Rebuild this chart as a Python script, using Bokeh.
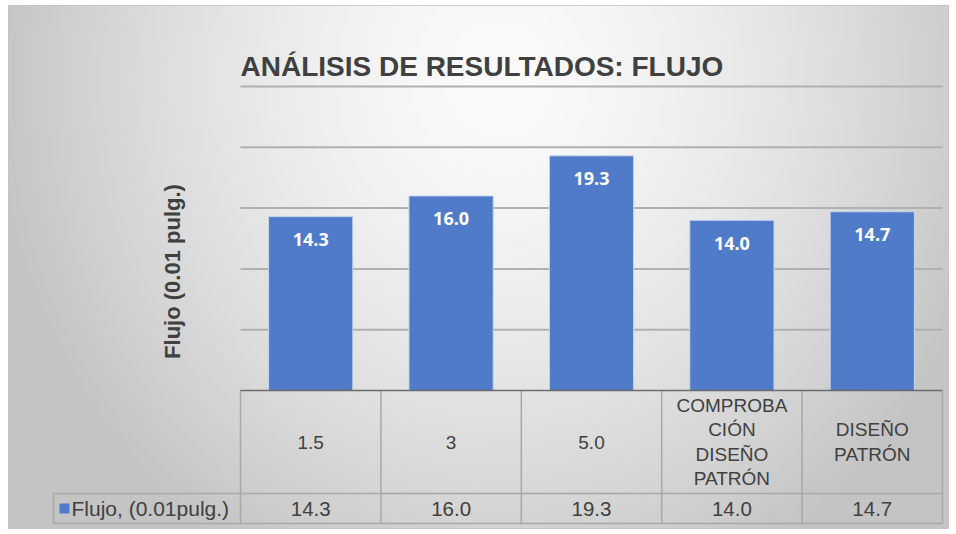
import numpy as np
from bokeh.plotting import figure
from bokeh.models import Range1d, ColumnDataSource
from bokeh.core.properties import value
from bokeh.embed import file_html
from bokeh.resources import INLINE

# ---------------- data ----------------
title_text = "ANÁLISIS DE RESULTADOS: FLUJO"
y_label = "Flujo (0.01 pulg.)"
series_name = "Flujo, (0.01pulg.)"
categories = ["1.5", "3", "5.0", "COMPROBA\nCIÓN\nDISEÑO\nPATRÓN", "DISEÑO\nPATRÓN"]
values = [14.3, 16.0, 19.3, 14.0, 14.7]
grid_ticks = [5, 10, 15, 20, 25]
y_max = 25

# ---------------- layout (page pixels) ----------------
FX0, FX1, FY0, FY1 = 8, 948, 5, 528   # chart frame on the page
W, H = 954, 532
PL, PR = 240, 942          # plot area left / right
P0, PTOP = 390, 86         # y pixel of value 0 and of y_max
ROW1_B, ROW2_B = 493, 523  # bottom of header row / values row
LEG_L = 53                 # left edge of legend cell

n = len(categories)
col_px = (PR - PL) / n
unit_px = (P0 - PTOP) / y_max


def cx(px):
    return (px - PL) / col_px


def cy(py):
    return (P0 - py) / unit_px


x_range = Range1d(cx(FX0), cx(FX1))
y_range = Range1d(cy(FY1), cy(FY0))

p = figure(width=W, height=H, x_range=x_range, y_range=y_range,
           output_backend="svg", toolbar_location=None,
           min_border_left=FX0, min_border_top=FY0,
           min_border_right=W - FX1, min_border_bottom=H - FY1,
           x_axis_type=None, y_axis_type=None)
p.grid.visible = False
p.outline_line_color = "#c4c4c4"
p.background_fill_color = "#e6e6e6"
p.border_fill_color = "white"

# ---------------- gradient background ----------------
fw, fh = FX1 - FX0, FY1 - FY0
ny, nx = fh // 2, fw // 2
rows, cols = np.mgrid[0:ny, 0:nx]
px_x = FX0 + cols * 2.0 + 1
px_y = FY1 - (rows * 2.0 + 1)
d = np.sqrt(((px_x - 500) / 480.0) ** 2 + ((px_y - 80) / 520.0) ** 2)
g = np.clip(251 - 50 * d ** 1.5, 196, 251).astype(np.uint32)
img = ((255 << 24) | (g << 16) | (g << 8) | g).astype(np.uint32)
p.image_rgba(image=[img], x=x_range.start, y=y_range.start,
             dw=x_range.end - x_range.start, dh=y_range.end - y_range.start)

# ---------------- gridlines ----------------
p.segment(x0=0, x1=n, y0=grid_ticks, y1=grid_ticks, line_color="#b0b0b0", line_width=2)

# ---------------- bars ----------------
xs = [i + 0.5 for i in range(n)]
src = ColumnDataSource(dict(x=xs, top=values, label=[f"{v:.1f}" for v in values]))
p.vbar(x="x", top="top", bottom=0, width=0.6, source=src,
       fill_color="#4f7bc8", line_color="#c9d6ee", line_width=1)
p.text(x="x", y="top", text="label", source=src, y_offset=23,
       text_align="center", text_baseline="middle", text_color="white",
       text_font=value("Open Sans"), text_font_style="bold", text_font_size="18px")

# ---------------- data table ----------------
tl = "#a8a8a8"
p.segment(x0=list(range(n + 1)), x1=list(range(n + 1)),
          y0=[0] * (n + 1), y1=[cy(ROW2_B)] * (n + 1), line_color=tl, line_width=1.5)
p.segment(x0=[cx(LEG_L)] * 2, x1=[n] * 2, y0=[cy(ROW1_B), cy(ROW2_B)],
          y1=[cy(ROW1_B), cy(ROW2_B)], line_color=tl, line_width=1.5)
p.segment(x0=[cx(LEG_L)], x1=[cx(LEG_L)], y0=[cy(ROW1_B)], y1=[cy(ROW2_B)],
          line_color=tl, line_width=1.5)
p.segment(x0=[0], x1=[n], y0=[0], y1=[0], line_color="#6b6b6b", line_width=1.5)

p.text(x=xs, y=[cy((P0 + ROW1_B) / 2)] * n, text=categories,
       text_align="center", text_baseline="middle", text_color="#404040",
       text_font=value("Liberation Sans"), text_font_size="19px", text_line_height=1.15)
p.text(x=xs, y=[cy((ROW1_B + ROW2_B) / 2)] * n, text=[f"{v:.1f}" for v in values],
       text_align="center", text_baseline="middle", text_color="#404040",
       text_font=value("Liberation Sans"), text_font_size="20.5px")

# legend key inside table
p.scatter(x=[cx(LEG_L + 11)], y=[cy((ROW1_B + ROW2_B) / 2)], marker="square", size=10,
          fill_color="#4f7bc8", line_color=None)
p.text(x=[cx(LEG_L + 18)], y=[cy((ROW1_B + ROW2_B) / 2)], text=[series_name],
       text_align="left", text_baseline="middle", text_color="#404040",
       text_font=value("Liberation Sans"), text_font_size="21px")

# ---------------- titles ----------------
p.text(x=[0], y=[cy(66)], text=[title_text], text_align="left", text_baseline="middle",
       text_color="#404040", text_font=value("Liberation Sans"),
       text_font_style="bold", text_font_size="28px")
p.text(x=[cx(172)], y=[cy(271)], text=[y_label], angle=np.pi / 2,
       text_align="center", text_baseline="middle", text_color="#404040",
       text_font=value("Liberation Sans"), text_font_style="bold", text_font_size="22px")

open("out.html", "w").write(file_html(p, INLINE))
